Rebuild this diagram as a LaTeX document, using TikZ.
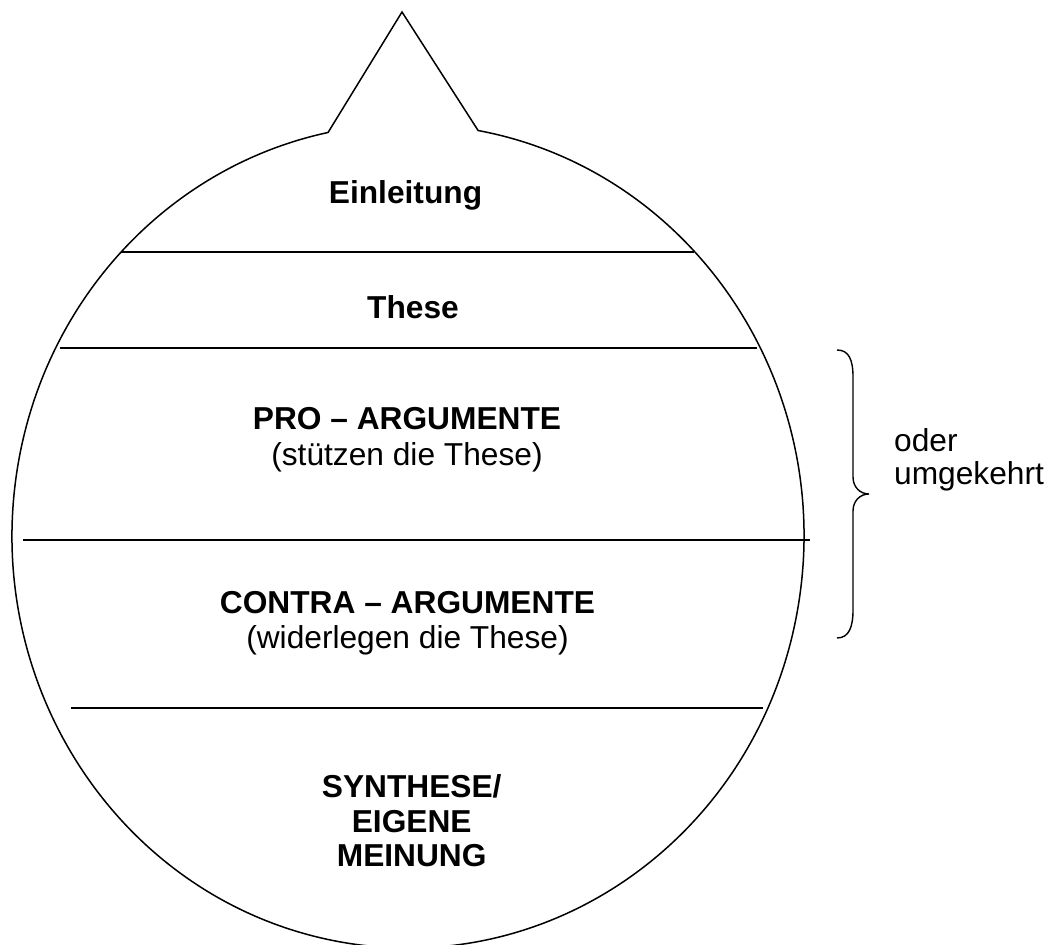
\documentclass[tikz,border=0pt]{standalone}
\usepackage{fontspec}
\setmainfont{Liberation Sans}
\begin{document}
\begin{tikzpicture}[x=1pt,y=1pt,
  outline/.style={draw=black,line width=1.5pt,line join=miter},
  divider/.style={draw=black,line width=1.6pt},
  bracestroke/.style={draw=black,line width=1.4pt},
  lbl/.style={inner sep=0pt,anchor=base,font=\fontsize{31.7}{36}\selectfont\bfseries},
  sub/.style={inner sep=0pt,anchor=base,font=\fontsize{31.7}{36}\selectfont},
  side/.style={inner sep=0pt,anchor=base west,font=\fontsize{31.7}{36}\selectfont}]
\useasboundingbox (0,0) rectangle (1050,945);
\clip (0,0) rectangle (1050,945);
% head outline: ellipse with a peak on top
\coordinate (peak) at (402,933);
\coordinate (baseR) at ({408+396*cos(79.8)},{409+412*sin(79.8)});
\draw[outline] (peak) -- (baseR)
  arc[start angle=79.8,end angle=-258.35,x radius=396pt,y radius=412pt] -- cycle;
% dividers
\coordinate (l1a) at (120.5,693); \coordinate (l1b) at (694,693);
\coordinate (l2a) at (60,597);    \coordinate (l2b) at (757,597);
\coordinate (l3a) at (23,405);    \coordinate (l3b) at (810,405);
\coordinate (l4a) at (71,237);    \coordinate (l4b) at (763,237);
\draw[divider] (l1a) -- (l1b);
\draw[divider] (l2a) -- (l2b);
\draw[divider] (l3a) -- (l3b);
\draw[divider] (l4a) -- (l4b);
% texts
\node[lbl] (einl) at (405.5,741) {Einleitung};
\node[lbl] (these) at (413,626) {These};
\node[lbl] (pro) at (407,515) {PRO – ARGUMENTE};
\node[sub] (prosub) at (407,479.5) {(stützen die These)};
\node[lbl] (contra) at (407.5,331.7) {CONTRA – ARGUMENTE};
\node[sub] (contrasub) at (407.5,296) {(widerlegen die These)};
\node[lbl] (syn1) at (411.7,147) {SYNTHESE/};
\node[lbl] (syn2) at (411.7,112.3) {EIGENE};
\node[lbl] (syn3) at (411.7,78.3) {MEINUNG};
% brace
\coordinate (brtop) at (837,595);
\coordinate (brtip) at (869,451);
\coordinate (brbot) at (837,307);
\draw[bracestroke] (brtop) .. controls (849,595) and (853,585) .. (853,568)
  -- (853,468) .. controls (853,458) and (860,451) .. (brtip)
  .. controls (860,451) and (853,444) .. (853,434)
  -- (853,335) .. controls (853,318) and (849,307) .. (brbot);
\node[side] (oder) at (894,493.3) {oder};
\node[side] (umg) at (894,460) {umgekehrt};
\end{tikzpicture}
\end{document}
